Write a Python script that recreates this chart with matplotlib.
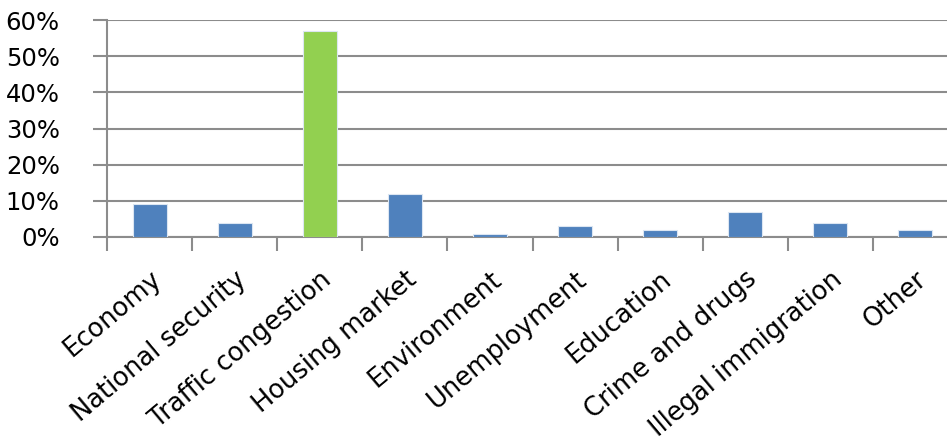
import matplotlib
matplotlib.use("Agg")
import matplotlib.pyplot as plt
from matplotlib.ticker import FixedLocator, PercentFormatter
from matplotlib.transforms import ScaledTranslation

categories = ["Economy", "National security", "Traffic congestion", "Housing market",
              "Environment", "Unemployment", "Education", "Crime and drugs",
              "Illegal immigration", "Other"]
values = [9, 4, 57, 12, 0.7, 3, 2, 7, 4, 2]
highlight = "Traffic congestion"

blue = "#4F81BD"
green = "#92D050"
grid_c = "#8C8C8C"

fig = plt.figure(figsize=(9.47, 4.45), dpi=100)
ax = fig.add_axes([107/947, (445-237)/445, (958-107)/947, (237-20)/445])

x = list(range(len(categories)))
colors = [green if c == highlight else blue for c in categories]
ax.bar(x, values, width=0.4, color=colors, edgecolor="#DCE6F2", linewidth=0.8, zorder=3)

ax.set_xlim(-0.5, len(categories) - 0.5)
ax.set_ylim(0, 60)
ax.set_yticks(range(0, 61, 10))
ax.yaxis.set_major_formatter(PercentFormatter(decimals=0))

ax.xaxis.set_major_locator(FixedLocator([i - 0.5 for i in range(len(categories) + 1)]))
ax.xaxis.set_minor_locator(FixedLocator(x))
ax.set_xticklabels([], minor=False)
ax.set_xticklabels(categories, minor=True, rotation=40, ha="right", va="top",
                   rotation_mode="anchor", fontsize=18.5)
shift = ScaledTranslation(-7/100, 0, fig.dpi_scale_trans)
for lbl in ax.get_xticklabels(minor=True):
    lbl.set_transform(lbl.get_transform() + shift)

ax.tick_params(axis="x", which="major", length=10, width=1.5, color=grid_c)
ax.tick_params(axis="x", which="minor", length=0, pad=21)
ax.tick_params(axis="y", length=10, width=1.5, color=grid_c, labelsize=17.5, pad=24)

ax.grid(axis="y", color=grid_c, linewidth=1.5, zorder=0)
for s in ["top", "right"]:
    ax.spines[s].set_visible(False)
for s in ["left", "bottom"]:
    ax.spines[s].set_color(grid_c)
    ax.spines[s].set_linewidth(1.5)

fig.savefig("out.png", dpi=100)
